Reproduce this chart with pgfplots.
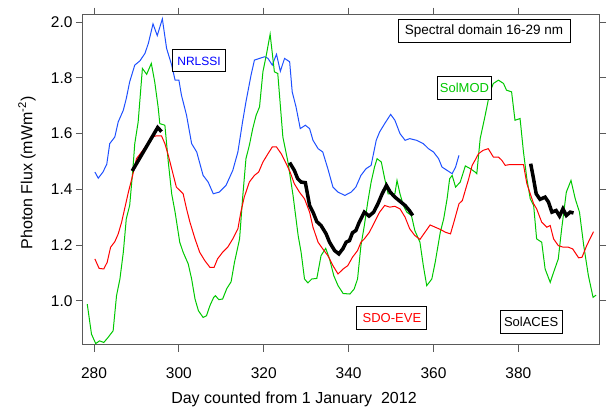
\documentclass[border=0pt]{standalone}
\usepackage{pgfplots}
\pgfplotsset{compat=1.18}
\usepackage{fontspec}
\setmainfont{Liberation Sans}
\definecolor{cblue}{RGB}{30,80,255}
\definecolor{cred}{RGB}{255,0,0}
\definecolor{cgreen}{RGB}{0,200,0}
\definecolor{frame}{RGB}{90,90,90}
\begin{document}
\begin{tikzpicture}[x=1pt,y=1pt]
\begin{axis}[
 at={(0,0)}, anchor=south west,
 scale only axis, width=516pt, height=330.3pt,
 xmin=277.4, xmax=399.0, ymin=0.841, ymax=2.027,
 xtick={280,300,320,340,360,380}, ytick={1.0,1.2,1.4,1.6,1.8,2.0},
 tick pos=both, xticklabel pos=bottom, yticklabel pos=left,
 tick align=outside, major tick length=7pt,
 axis line style={frame, line width=1pt}, tick style={frame, line width=0.9pt},
 /pgf/number format/assume math mode=true,
 ticklabel style={font=\fontsize{15.5}{16}\selectfont, text=black},
 yticklabel style={/pgf/number format/.cd, fixed, fixed zerofill, precision=1},
 xticklabel style={yshift=-12pt, /pgf/number format/.cd, fixed, precision=0},
]
\addplot[cblue, line width=1pt] coordinates {
(280.2,1.462)(281.0,1.440)(282.1,1.462)(283.0,1.490)(283.7,1.564)(284.9,1.588)(285.7,1.642)(286.9,1.684)(287.6,1.726)(288.4,1.786)(289.6,1.846)(290.8,1.861)(292.0,1.888)(292.8,1.924)(293.9,1.994)(294.9,1.952)(296.1,2.012)(297.1,1.906)(298.3,1.846)(299.1,1.792)(300.0,1.792)(300.6,1.738)(301.8,1.666)(303.0,1.564)(304.2,1.534)(305.7,1.450)(306.9,1.426)(308.1,1.384)(309.5,1.390)(311.1,1.414)(312.7,1.468)(313.9,1.534)(315.0,1.642)(315.8,1.714)(317.0,1.810)(317.8,1.864)(319.0,1.870)(320.2,1.876)(321.0,1.870)(322.0,1.846)(323.0,1.885)(323.9,1.824)(324.9,1.870)(326.1,1.858)(326.7,1.750)(327.6,1.696)(328.6,1.618)(329.8,1.630)(330.8,1.618)(331.6,1.576)(332.8,1.546)(333.9,1.534)(335.1,1.474)(336.3,1.408)(337.5,1.390)(339.1,1.378)(340.6,1.390)(341.7,1.408)(342.9,1.450)(344.1,1.474)(345.3,1.486)(346.5,1.576)(347.3,1.606)(348.5,1.636)(349.9,1.669)(350.9,1.648)(352.1,1.600)(353.3,1.576)(354.4,1.582)(356.0,1.576)(357.6,1.564)(358.8,1.546)(360.0,1.534)(361.2,1.510)(362.0,1.480)(363.2,1.468)(364.4,1.456)(365.2,1.480)(366.0,1.522)
};
\addplot[cgreen, line width=1pt] coordinates {
(278.4,0.988)(279.4,0.880)(280.4,0.846)(281.3,0.856)(282.3,0.850)(283.3,0.868)(284.5,0.892)(285.3,1.018)(286.1,1.078)(286.9,1.174)(287.6,1.294)(288.4,1.342)(289.1,1.462)(289.6,1.564)(290.4,1.642)(291.4,1.834)(292.4,1.813)(293.5,1.852)(294.3,1.786)(295.1,1.696)(295.5,1.636)(296.7,1.630)(297.5,1.498)(298.3,1.384)(299.1,1.318)(300.2,1.210)(301.0,1.174)(302.2,1.132)(303.0,1.078)(303.8,1.006)(304.6,0.964)(305.7,0.940)(306.5,0.946)(307.3,0.982)(308.2,1.012)(308.6,1.018)(309.4,1.004)(310.3,1.006)(311.3,1.044)(312.3,1.068)(313.1,1.138)(314.3,1.222)(315.0,1.366)(315.8,1.510)(316.6,1.558)(317.4,1.618)(318.2,1.666)(319.0,1.696)(319.8,1.822)(320.6,1.882)(321.5,1.957)(322.5,1.822)(323.3,1.816)(324.5,1.588)(325.7,1.498)(326.9,1.378)(328.1,1.234)(328.8,1.174)(329.6,1.078)(330.4,1.064)(331.3,1.078)(332.5,1.080)(333.5,1.162)(334.6,1.188)(335.5,1.150)(336.5,1.090)(337.5,1.054)(338.7,1.026)(340.3,1.024)(341.3,1.042)(342.1,1.078)(342.9,1.198)(343.7,1.270)(344.5,1.354)(345.3,1.426)(346.1,1.480)(346.7,1.510)(347.7,1.498)(348.5,1.438)(349.3,1.384)(350.1,1.384)(350.9,1.384)(351.4,1.432)(352.1,1.384)(352.9,1.342)(353.7,1.318)(354.8,1.306)(355.6,1.252)(356.8,1.210)(357.6,1.126)(358.4,1.054)(359.6,1.078)(360.4,1.138)(361.6,1.246)(362.4,1.294)(363.2,1.366)(363.8,1.438)(364.4,1.450)(365.2,1.408)(366.3,1.426)(367.5,1.484)(368.7,1.474)(369.8,1.462)(370.2,1.456)(371.0,1.582)(372.1,1.660)(373.3,1.750)(374.1,1.780)(375.3,1.792)(376.5,1.780)(377.2,1.756)(378.4,1.750)(379.2,1.648)(380.4,1.654)(381.2,1.534)(382.0,1.438)(382.8,1.366)(383.6,1.342)(384.3,1.222)(385.5,1.210)(386.3,1.114)(387.5,1.066)(388.3,1.102)(389.4,1.150)(390.2,1.258)(391.3,1.390)(392.4,1.432)(393.4,1.366)(394.4,1.318)(395.4,1.198)(396.5,1.090)(397.6,1.012)(398.3,1.020)
};
\addplot[cred, line width=1pt] coordinates {
(280.2,1.150)(281.2,1.116)(282.3,1.114)(283.1,1.138)(283.9,1.192)(284.9,1.212)(285.7,1.240)(286.5,1.282)(287.3,1.336)(288.1,1.390)(289.1,1.450)(290.0,1.510)(291.2,1.534)(292.4,1.558)(293.5,1.588)(294.7,1.592)(295.9,1.592)(296.7,1.564)(297.5,1.522)(298.3,1.474)(299.4,1.408)(300.2,1.396)(301.0,1.384)(301.8,1.330)(302.6,1.282)(303.8,1.222)(304.9,1.174)(306.1,1.144)(307.3,1.120)(308.3,1.120)(309.1,1.150)(310.3,1.174)(311.5,1.192)(312.7,1.222)(313.9,1.258)(314.6,1.318)(315.4,1.372)(316.6,1.426)(317.8,1.450)(318.8,1.462)(319.8,1.498)(321.0,1.528)(322.0,1.552)(323.0,1.552)(324.1,1.528)(325.3,1.492)(326.2,1.462)(327.2,1.420)(328.4,1.390)(329.6,1.366)(330.8,1.318)(331.6,1.264)(332.8,1.210)(333.9,1.186)(335.1,1.162)(336.3,1.126)(337.5,1.096)(338.7,1.114)(339.8,1.126)(340.9,1.156)(342.1,1.180)(342.9,1.210)(343.7,1.222)(344.9,1.246)(346.1,1.282)(347.3,1.318)(348.5,1.342)(349.7,1.336)(350.9,1.339)(352.1,1.330)(353.3,1.300)(354.4,1.258)(355.6,1.234)(356.8,1.220)(358.0,1.246)(359.2,1.272)(360.4,1.264)(361.6,1.256)(362.8,1.246)(364.0,1.240)(364.8,1.282)(366.0,1.348)(366.8,1.360)(367.6,1.402)(368.3,1.438)(369.1,1.486)(370.0,1.510)(370.6,1.528)(371.7,1.540)(372.9,1.546)(374.1,1.516)(375.3,1.516)(376.1,1.504)(376.9,1.486)(378.0,1.489)(379.2,1.489)(380.4,1.489)(381.2,1.489)(382.0,1.420)(382.8,1.384)(383.6,1.348)(384.3,1.330)(385.5,1.282)(386.7,1.264)(387.5,1.270)(388.3,1.222)(389.4,1.198)(390.6,1.192)(391.8,1.192)(392.8,1.186)(394.2,1.154)(395.0,1.156)(396.1,1.198)(397.7,1.248)
};
\addplot[black, line width=3.5pt] coordinates {
(289.0,1.466)(290.0,1.492)(291.0,1.518)(292.0,1.544)(293.0,1.570)(294.0,1.596)(295.0,1.622)(295.9,1.607)
};
\addplot[black, line width=3.5pt] coordinates {
(326.1,1.496)(327.2,1.468)(328.0,1.438)(328.8,1.426)(329.8,1.424)(330.8,1.342)(331.6,1.318)(332.5,1.284)(333.5,1.270)(334.7,1.240)(335.5,1.210)(336.7,1.180)(337.7,1.168)(338.7,1.188)(339.4,1.210)(340.2,1.216)(340.9,1.244)(341.7,1.252)(342.5,1.282)(343.7,1.318)(344.8,1.304)(345.9,1.318)(346.9,1.348)(347.9,1.384)(348.9,1.414)(349.8,1.390)(350.9,1.372)(352.1,1.357)(353.3,1.342)(354.3,1.324)(355.1,1.306)
};
\addplot[black, line width=3.5pt] coordinates {
(382.9,1.492)(383.5,1.444)(384.2,1.384)(385.1,1.364)(386.3,1.372)(387.1,1.354)(387.9,1.318)(388.9,1.324)(389.7,1.304)(390.5,1.330)(391.3,1.306)(392.2,1.318)(393.0,1.315)
};
\node[draw=black, line width=1pt, fill=white, text=blue, font=\fontsize{12}{13}\selectfont, minimum width=53pt, minimum height=22pt, inner sep=0pt] at (axis cs:304.75,1.861) {NRLSSI};
\node[draw=black, line width=1pt, fill=white, text=black, font=\fontsize{13.5}{14}\selectfont, minimum width=172pt, minimum height=23pt, inner sep=0pt] at (axis cs:371.9,1.967) {Spectral domain 16-29 nm};
\node[draw=black, line width=1pt, fill=white, text=cgreen, font=\fontsize{13}{14}\selectfont, minimum width=54pt, minimum height=23pt, inner sep=0pt] at (axis cs:367.3,1.765) {SolMOD};
\node[draw=black, line width=1pt, fill=white, text=red, font=\fontsize{13}{14}\selectfont, minimum width=70pt, minimum height=23pt, inner sep=0pt] at (axis cs:350.2,0.939) {SDO-EVE};
\node[draw=black, line width=1pt, fill=white, text=black, font=\fontsize{13}{14}\selectfont, minimum width=62pt, minimum height=23pt, inner sep=0pt] at (axis cs:383.0,0.925) {SolACES};
\end{axis}
\node[anchor=base, font=\fontsize{16}{17}\selectfont] at (211,-58.3) {Day counted from 1 January\ \ 2012};
\node[rotate=90, anchor=center, font=\fontsize{16}{17}\selectfont] at (-56,172) {Photon Flux (mWm\textsuperscript{-2})};
\pgfresetboundingbox
\useasboundingbox (-83,-64) rectangle (525,345);
\end{tikzpicture}
\end{document}
